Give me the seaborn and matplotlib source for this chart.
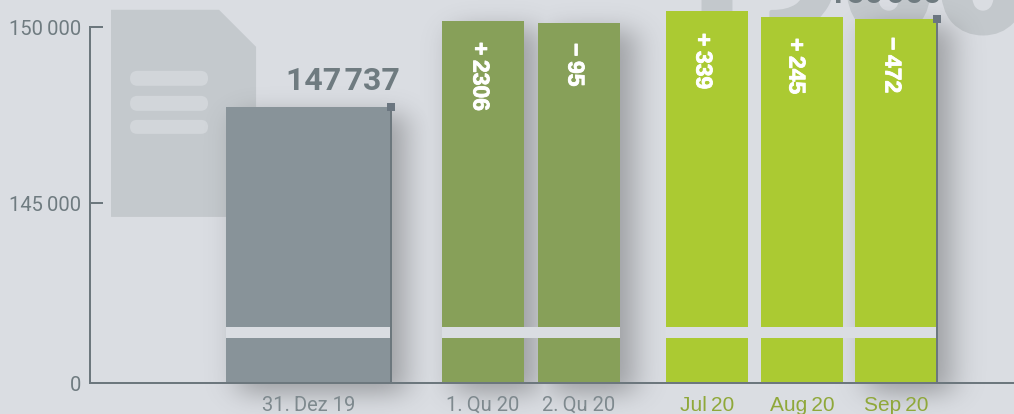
import math
import numpy as np
import matplotlib
matplotlib.use("Agg")
import matplotlib.pyplot as plt
from matplotlib.patches import Polygon, FancyBboxPatch, Rectangle
from matplotlib.transforms import Affine2D
import matplotlib.patheffects as pe
import seaborn as sns

categories = ["31.\u2009Dez 19", "1.\u2009Qu 20", "2.\u2009Qu 20", "Jul\u200920", "Aug\u200920", "Sep\u200920"]
# heights as drawn, read against the axis of the picture
values = [147737, 150170, 150114, 150455, 150284, 150227]
bar_colors = ["#889399", "#87a059", "#87a059", "#abca32", "#abca32", "#abca32"]
change_labels = ["+\u20092306", "\u2212\u200995", "+\u2009339", "+\u2009245", "\u2212\u2009472"]
y_ticks = [0, 145000, 150000]
y_tick_labels = ["0", "145\u2009000", "150\u2009000"]
total_labels = ["147\u200a737", "150\u200a060"]
watermark_head = "1"
watermark_tail = "900"

W, H = 1014, 414
BG = "#dadde2"
AXC = "#6c777d"
TXT = "#6f7b80"

sns.set_theme(style="white")
plt.rcParams["font.family"] = ["Roboto", "DejaVu Sans"]

fig = plt.figure(figsize=((W + .2) / 100, (H + .2) / 100), dpi=100, facecolor=BG)
px = Affine2D().scale(1, -1).translate(0, H)  # pixel layout helper

# ---------- background layer ----------
bg = fig.add_axes([0, 0, 1, 1], zorder=0)
bg.set_xlim(0, W)
bg.set_ylim(H, 0)
bg.axis("off")
doc_c = "#c4c9cd"
bg.add_patch(Polygon([(111, 10), (219, 10), (256, 47), (256, 217), (111, 217)], fc=doc_c, ec="none"))
for top, bot in [(71, 86), (96, 111), (120, 134)]:
    r = (bot - top) / 2
    bg.add_patch(FancyBboxPatch((130 + r, top + r), 78 - 2 * r, 0, boxstyle=f"round,pad={r},rounding_size={r}",
                                fc="#d2d6da", ec="none", mutation_aspect=1))
for txt, right in [(watermark_head, 758), (watermark_tail, 1030)]:
    bg.text(right, 32, txt, color="#c3c8cc", fontsize=117, fontweight=900, family="Roboto",
            ha="right", va="baseline", clip_on=True,
            path_effects=[pe.withStroke(linewidth=3, foreground="#c3c8cc")])

# soft shadows
slots = [(226, 391), (442, 524), (538, 620), (666, 748), (761, 843), (855, 937)]
bar_base = 383.5
tops = [107, 21, 23, 11, 17, 19]
verf = np.vectorize(math.erf)
xx = np.arange(W) + .5
yy = np.arange(H) + .5
def edge(c, a, b, s):
    return .5 * (verf((c - a) / (s * 2 ** .5)) - verf((c - b) / (s * 2 ** .5)))
dens = np.zeros((H, W))
for i in [0, 1, 2, 5]:
    a, b = slots[i]
    t = tops[i]
    sx = edge(xx, a + 12, b + 14, 15)
    sy = edge(yy, t + 8, bar_base + 10, 12)
    dens = np.maximum(dens, np.outer(sy, sx))
rgba = np.zeros((H, W, 4))
rgba[..., :3] = 0.22
rgba[..., 3] = dens * 0.38
bg.imshow(rgba, extent=(0, W, H, 0), aspect="auto", zorder=3, interpolation="bilinear")
bg.set_xlim(0, W)
bg.set_ylim(H, 0)

# ---------- chart layer ----------
ax = fig.add_axes([0, 0, 1, 1], zorder=1)
ax.patch.set_alpha(0)
sns.barplot(x=categories, y=values, hue=categories, palette=bar_colors, dodge=False,
            legend=False, saturation=1, ax=ax, zorder=1)

Y0, LOW, HIGH = 383.5, 203.0, 27.0
def fwd(v):
    v = np.asarray(v, dtype=float)
    return np.where(v < 145000, v / 145000 * (Y0 - LOW), (Y0 - LOW) + (v - 145000) * (LOW - HIGH) / 5000)
def inv(p):
    p = np.asarray(p, dtype=float)
    return np.where(p < Y0 - LOW, p / (Y0 - LOW) * 145000, 145000 + (p - (Y0 - LOW)) * 5000 / (LOW - HIGH))
ax.set_yscale("function", functions=(fwd, inv))
ax.set_ylim(float(inv(Y0 - H)), float(inv(Y0)))

for patch, (a, b) in zip(ax.patches, slots):
    patch.set_x(a)
    patch.set_width(b - a)
    patch.set_linewidth(0)
ax.set_xlim(0, W)
centers = [(a + b) / 2 for a, b in slots]

for s in ("top", "right"):
    ax.spines[s].set_visible(False)
for s in ("left", "bottom"):
    ax.spines[s].set_color(AXC)
    ax.spines[s].set_linewidth(1.44)
ax.spines["left"].set_position(("data", 90))
ax.spines["left"].set_bounds(0, 150000)
ax.spines["bottom"].set_position(("data", 0))
ax.spines["bottom"].set_bounds(90, W)

ax.set_yticks(y_ticks, y_tick_labels)
ax.yaxis.set_minor_locator(matplotlib.ticker.NullLocator())
ax.tick_params(axis="y", direction="in", length=9.4, width=1.44, color=AXC, pad=6.5,
               labelsize=14.5, labelcolor=TXT, left=True)
ax.set_xticks(centers, categories)
ax.tick_params(axis="x", length=0, pad=9, labelsize=14.5, bottom=False)
for i, lab in enumerate(ax.get_xticklabels()):
    if i < 3:
        lab.set_color("#7e898e")
        lab.set_family(["Roboto", "DejaVu Sans"])
    else:
        lab.set_color("#8fa83a")
        lab.set_fontsize(15)
        lab.set_family(["Liberation Sans", "DejaVu Sans"])

# break band in the bars
for a, b in [(226, 390), (442, 620), (666, 936)]:
    ax.add_patch(Rectangle((a, 327), b - a, 11, fc=BG, ec="none", transform=px, zorder=1.5))

# right edge rule and end markers on first and last bars
for i in (0, 5):
    x = slots[i][1]
    ax.vlines(x, 0, values[i], color=AXC, lw=1.44, zorder=2)
    ax.plot([x], [values[i]], marker="s", ms=5.8, color="#6b7680", mew=0, zorder=3, clip_on=False)

# change labels
for lab, xpos, ytop in zip(change_labels, [480, 575, 703, 796, 892], [42, 43, 33, 38, 37]):
    ax.text(xpos, ytop, lab, transform=px, rotation=270, ha="center", va="top", color="white",
            fontsize=16.5, fontweight="bold", family=["Liberation Sans", "DejaVu Sans"], zorder=4,
            path_effects=[pe.withStroke(linewidth=0.6, foreground="white")])

# totals
ax.text(343, 90, total_labels[0], transform=px, ha="center", va="baseline", color=TXT,
        fontsize=23, fontweight="bold", zorder=4)
ax.text(885, 3, total_labels[1], transform=px, ha="center", va="baseline", color=TXT,
        fontsize=23, fontweight="bold", zorder=4)

fig.savefig("out.png", dpi=100, facecolor=BG)
